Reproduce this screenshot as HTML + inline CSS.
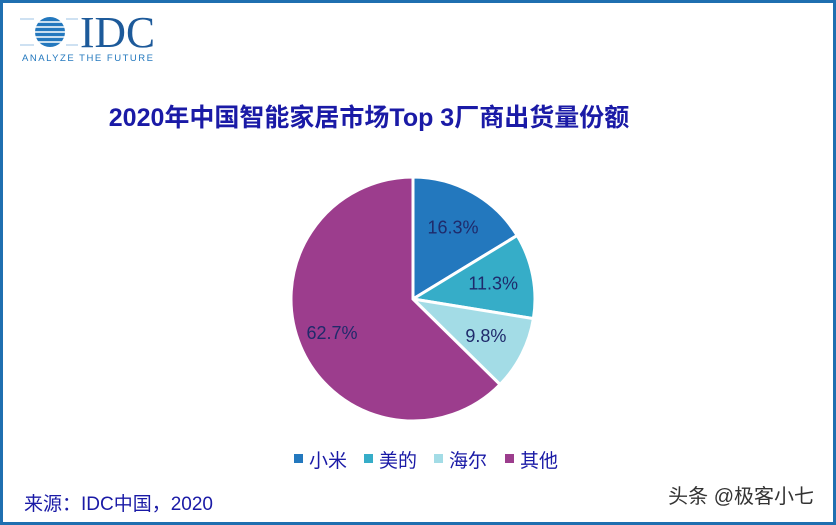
<!DOCTYPE html>
<html><head><meta charset="utf-8"><style>
body{margin:0;width:836px;height:525px;overflow:hidden;background:#fff;font-family:"Liberation Sans","Noto Sans CJK SC",sans-serif}
#frame{position:absolute;left:0;top:0;width:830px;height:519px;border:3px solid #1f6fb0;background:#fff}
</style></head><body>
<div id="frame"></div>
<svg width="836" height="525" style="position:absolute;left:0;top:0">
<g>
<circle cx="50" cy="32" r="15" fill="#2378be"/>
<g stroke="#fff" stroke-width="1.5">
<line x1="20" y1="22" x2="78" y2="22"/><line x1="20" y1="27" x2="78" y2="27"/><line x1="20" y1="32" x2="78" y2="32"/><line x1="20" y1="37" x2="78" y2="37"/><line x1="20" y1="42" x2="78" y2="42"/></g>
<g stroke="#9cc3e4" stroke-width="1"><line x1="20" y1="19" x2="34" y2="19"/><line x1="66" y1="19" x2="78" y2="19"/><line x1="20" y1="45" x2="34" y2="45"/><line x1="66" y1="45" x2="78" y2="45"/></g>
<text x="80" y="47" font-family="Liberation Serif,serif" font-size="44" textLength="75" lengthAdjust="spacingAndGlyphs" fill="#1d5a9a">IDC</text>
<text x="22" y="61" font-size="9.5" textLength="131" lengthAdjust="spacing" fill="#2378be">ANALYZE THE FUTURE</text>
</g>
<text x="369" y="126" text-anchor="middle" font-size="25" font-weight="bold" fill="#1a1aa6">2020年中国智能家居市场Top 3厂商出货量份额</text>
<g id="pie"></g>
<g id="legend"></g>
<text x="24" y="510" font-size="19" fill="#1a1aa6">来源：IDC中国，2020</text>
<text x="814" y="503" text-anchor="end" font-size="20" fill="#333">头条 @极客小七</text>
</svg>
<script>
const categories=["小米","美的","海尔","其他"];
const values=[16.3,11.3,9.8,62.7];
const colors=["#2378be","#36adc8","#a3dce6","#9c3d8d"];
const NS="http://www.w3.org/2000/svg";
const cx=413,cy=299,r=122;
const pie=document.getElementById('pie');
const total=values.reduce((a,b)=>a+b,0);
let a0=0;
function pt(a,rr){return [cx+rr*Math.sin(a),cy-rr*Math.cos(a)];}
values.forEach((v,i)=>{
 const a1=a0+v/total*2*Math.PI;
 const p0=pt(a0,r),p1=pt(a1,r);
 const path=document.createElementNS(NS,'path');
 path.setAttribute('d',`M${cx},${cy}L${p0[0]},${p0[1]}A${r},${r} 0 ${a1-a0>Math.PI?1:0} 1 ${p1[0]},${p1[1]}Z`);
 path.setAttribute('fill',colors[i]);path.setAttribute('stroke','#fff');path.setAttribute('stroke-width','3');
 
 
 pie.appendChild(path);
 const m=(a0+a1)/2,lp=pt(m,i==3?0.72*r:0.67*r);
 const t=document.createElementNS(NS,'text');
 t.setAttribute('x',lp[0]);t.setAttribute('y',lp[1]+6);t.setAttribute('text-anchor','middle');
 t.setAttribute('font-size','18');t.setAttribute('fill','#1f2a6b');
 t.textContent=v.toFixed(1)+'%';
 
 
 pie.appendChild(t);
 a0=a1;
});
const lg=document.getElementById('legend');
const lx=[294,364,434,505];
categories.forEach((c,i)=>{
 const g=document.createElementNS(NS,'g');
 
 
 const s=document.createElementNS(NS,'rect');
 s.setAttribute('x',lx[i]);s.setAttribute('y',454);s.setAttribute('width',9);s.setAttribute('height',9);s.setAttribute('fill',colors[i]);
 const t=document.createElementNS(NS,'text');
 t.setAttribute('x',lx[i]+15);t.setAttribute('y',467);t.setAttribute('font-size','19');t.setAttribute('fill','#1a1aa6');
 t.textContent=c;
 g.appendChild(s);g.appendChild(t);lg.appendChild(g);
});
</script>
</body></html>
